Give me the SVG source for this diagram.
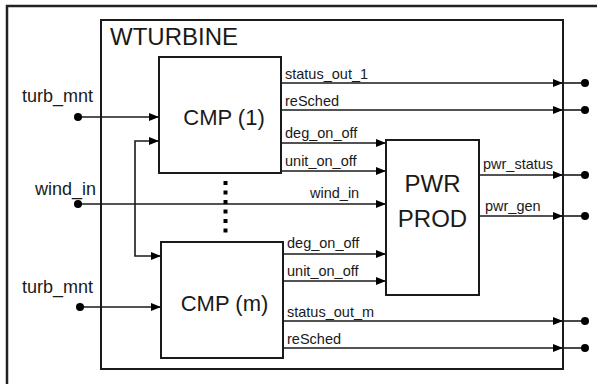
<svg xmlns="http://www.w3.org/2000/svg" width="597" height="384" viewBox="0 0 597 384">
<style>
.box{fill:#fff;stroke:#1a1a1a;stroke-width:2}
.ln{fill:none;stroke:#1a1a1a;stroke-width:1.6}
.lbl{font-family:"Liberation Sans",Arial,sans-serif;font-size:14.5px;fill:#1a1a1a}
.ext{font-family:"Liberation Sans",Arial,sans-serif;font-size:18px;fill:#1a1a1a}
.big{font-family:"Liberation Sans",Arial,sans-serif;font-size:22px;fill:#1a1a1a;text-anchor:middle}
.dot{fill:#000}
</style>
<defs>
<marker id="ar" markerUnits="userSpaceOnUse" markerWidth="10" markerHeight="10" viewBox="0 0 10 10" refX="10" refY="5" orient="auto">
<path d="M0,1 L10,5 L0,9 Z" fill="#000"/>
</marker>
</defs>
<rect x="0" y="0" width="597" height="384" fill="#fff"/>
<rect x="7" y="6" width="600" height="400" fill="none" stroke="#222" stroke-width="2.5"/>
<g id="wturbine">
<rect x="101" y="20" width="462" height="349" class="box"/>
<text x="110" y="45" font-family="Liberation Sans,Arial,sans-serif" font-size="24" fill="#1a1a1a">WTURBINE</text>
</g>
<g id="connectors">
<line class="ln" x1="78" y1="117" x2="159" y2="117" marker-end="url(#ar)"/>
<path class="ln" d="M135,200 V141 H159" marker-end="url(#ar)"/>
<path class="ln" d="M135,200 V256 H161" marker-end="url(#ar)"/>
<line class="ln" x1="78" y1="204" x2="386" y2="204" marker-end="url(#ar)"/>
<line class="ln" x1="80" y1="307" x2="161" y2="307" marker-end="url(#ar)"/>
<line class="ln" x1="281" y1="83" x2="563" y2="83" marker-end="url(#ar)"/>
<line class="ln" x1="563" y1="83" x2="585" y2="83"/>
<line class="ln" x1="281" y1="110" x2="563" y2="110" marker-end="url(#ar)"/>
<line class="ln" x1="563" y1="110" x2="585" y2="110"/>
<line class="ln" x1="281" y1="143" x2="386" y2="143" marker-end="url(#ar)"/>
<line class="ln" x1="281" y1="171" x2="386" y2="171" marker-end="url(#ar)"/>
<line class="ln" x1="283" y1="254" x2="386" y2="254" marker-end="url(#ar)"/>
<line class="ln" x1="283" y1="281" x2="386" y2="281" marker-end="url(#ar)"/>
<line class="ln" x1="283" y1="321" x2="563" y2="321" marker-end="url(#ar)"/>
<line class="ln" x1="563" y1="321" x2="585" y2="321"/>
<line class="ln" x1="283" y1="348" x2="563" y2="348" marker-end="url(#ar)"/>
<line class="ln" x1="563" y1="348" x2="585" y2="348"/>
<line class="ln" x1="479" y1="175" x2="563" y2="175" marker-end="url(#ar)"/>
<line class="ln" x1="563" y1="175" x2="585" y2="175"/>
<line class="ln" x1="479" y1="216" x2="563" y2="216" marker-end="url(#ar)"/>
<line class="ln" x1="563" y1="216" x2="585" y2="216"/>
<line x1="225.5" y1="181" x2="225.5" y2="233" stroke="#000" stroke-width="4" stroke-dasharray="4 5.5"/>
</g>
<g id="cmp1">
<rect x="159" y="57" width="122" height="116" class="box"/>
<text x="224" y="125" class="big">CMP (1)</text>
</g>
<g id="cmpm">
<rect x="161" y="242" width="122" height="116" class="box"/>
<text x="224.5" y="311" class="big">CMP (m)</text>
</g>
<g id="pwrprod">
<rect x="386" y="140" width="93" height="155" class="box"/>
<text x="432.5" y="192" class="big" style="font-size:24px">PWR</text>
<text x="432.5" y="227" class="big" style="font-size:24px">PROD</text>
</g>
<g id="ports">
<circle cx="78" cy="117" r="4" class="dot"/>
<circle cx="78" cy="204" r="4" class="dot"/>
<circle cx="80" cy="307" r="4" class="dot"/>
<circle cx="585" cy="83" r="4" class="dot"/>
<circle cx="585" cy="110" r="4" class="dot"/>
<circle cx="585" cy="175" r="4" class="dot"/>
<circle cx="585" cy="216" r="4" class="dot"/>
<circle cx="585" cy="321" r="4" class="dot"/>
<circle cx="585" cy="348" r="4" class="dot"/>
<text x="22" y="102" class="ext">turb_mnt</text>
<text x="35" y="195" class="ext">wind_in</text>
<text x="22" y="293" class="ext">turb_mnt</text>
</g>
<g id="labels">
<text x="285" y="79" class="lbl">status_out_1</text>
<text x="285" y="106" class="lbl">reSched</text>
<text x="285" y="138" class="lbl">deg_on_off</text>
<text x="285" y="166" class="lbl">unit_on_off</text>
<text x="310" y="198" class="lbl">wind_in</text>
<text x="287" y="248" class="lbl">deg_on_off</text>
<text x="287" y="276" class="lbl">unit_on_off</text>
<text x="287" y="317" class="lbl">status_out_m</text>
<text x="287" y="344" class="lbl">reSched</text>
<text x="483" y="169" class="lbl">pwr_status</text>
<text x="485" y="211" class="lbl">pwr_gen</text>
</g>
</svg>
